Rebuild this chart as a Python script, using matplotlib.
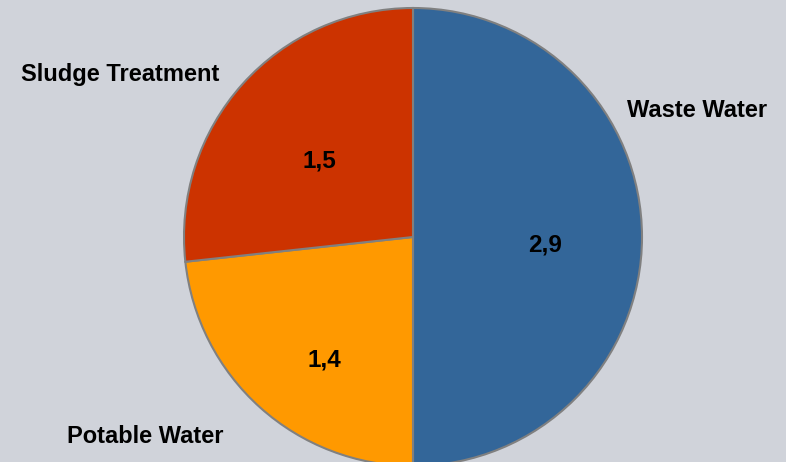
import numpy as np
import matplotlib.pyplot as plt

plt.rcParams['font.family'] = ['Liberation Sans', 'DejaVu Sans']

categories = ['Waste Water', 'Potable Water', 'Sludge Treatment']
values = [2.9, 1.35, 1.55]
value_labels = ['2,9', '1,4', '1,5']
colors = ['#336699', '#FF9900', '#CC3300']

bg = '#D0D3DA'

fig = plt.figure(figsize=(7.86, 4.62), dpi=100, facecolor=bg)
ax = fig.add_axes([0, 0, 1, 1])
ax.set_facecolor(bg)

wedges, _ = ax.pie(values, colors=colors, startangle=90, counterclock=False,
                   radius=1.0, center=(0, 0),
                   wedgeprops=dict(edgecolor='#808080', linewidth=1.5))

# value labels inside the slices (radial fraction per slice)
inner_r = [0.577, 0.663, 0.528]
inner_shift = [-3.5, 6, 3]
for w, lab, r, sh in zip(wedges, value_labels, inner_r, inner_shift):
    mid = np.deg2rad((w.theta1 + w.theta2) / 2 + sh)
    ax.text(r * np.cos(mid), r * np.sin(mid), lab, ha='center', va='center',
            fontsize=17.5, fontweight='bold', color='black')

# category labels outside the pie
outer = [(24, 1.36), (216.7, 1.46), (151, 1.46)]
for cat, (ang, r) in zip(categories, outer):
    a = np.deg2rad(ang)
    ax.text(r * np.cos(a), r * np.sin(a), cat, ha='center', va='center',
            fontsize=17, fontweight='bold', color='black')

# pixel layout: center at (413, 237), radius 229 px
ax.set_xlim(-413 / 229, (786 - 413) / 229)
ax.set_ylim(-(462 - 237) / 229, 237 / 229)
ax.set_aspect('auto')
ax.axis('off')

fig.savefig('out.png', dpi=100, facecolor=bg)
